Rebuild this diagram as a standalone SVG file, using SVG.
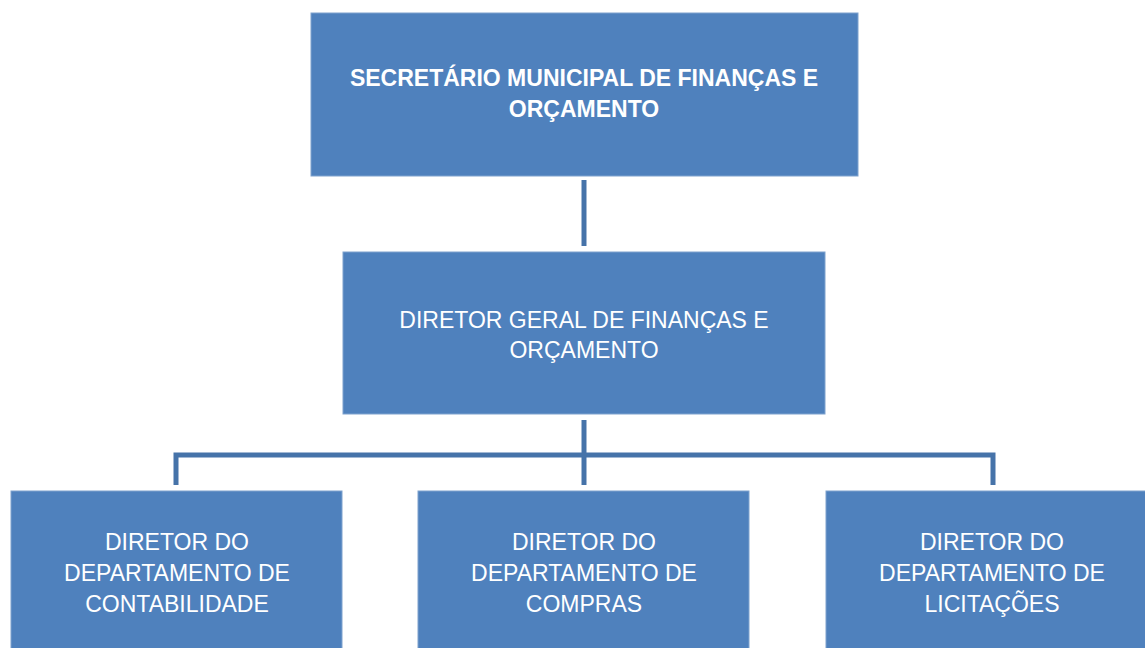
<svg xmlns="http://www.w3.org/2000/svg" width="1145" height="648" viewBox="0 0 1145 648">
<style>
.box{fill:#4F81BD;stroke:#7EA2CE;stroke-width:1}
.t{font-family:"Liberation Sans",Arial,sans-serif;font-size:23px;fill:#FFFFFF;text-anchor:middle}
.b{font-weight:bold;font-size:23px}
.c{fill:none;stroke:#4673A9;stroke-width:5}
</style>
<rect width="1145" height="648" fill="#FFFFFF"/>
<g id="connectors">
<line class="c" x1="584" y1="180" x2="584" y2="246"/>
<line class="c" x1="584" y1="420" x2="584" y2="485"/>
<polyline class="c" points="176,485 176,455 993,455 993,485"/>
</g>
<g id="n1">
<rect class="box" x="311" y="13" width="547" height="163"/>
<text class="t b" x="584" y="86">SECRETÁRIO MUNICIPAL DE FINANÇAS E</text>
<text class="t b" x="584" y="117">ORÇAMENTO</text>
</g>
<g id="n2">
<rect class="box" x="343" y="252" width="482" height="162"/>
<text class="t" x="584" y="328">DIRETOR GERAL DE FINANÇAS E</text>
<text class="t" x="584" y="358">ORÇAMENTO</text>
</g>
<g id="n3">
<rect class="box" x="11" y="491" width="331" height="160"/>
<text class="t" x="177" y="550">DIRETOR DO</text>
<text class="t" x="177" y="581">DEPARTAMENTO DE</text>
<text class="t" x="177" y="612">CONTABILIDADE</text>
</g>
<g id="n4">
<rect class="box" x="418" y="491" width="331" height="160"/>
<text class="t" x="584" y="550">DIRETOR DO</text>
<text class="t" x="584" y="581">DEPARTAMENTO DE</text>
<text class="t" x="584" y="612">COMPRAS</text>
</g>
<g id="n5">
<rect class="box" x="826" y="491" width="334" height="160"/>
<text class="t" x="992" y="550">DIRETOR DO</text>
<text class="t" x="992" y="581">DEPARTAMENTO DE</text>
<text class="t" x="992" y="612">LICITAÇÕES</text>
</g>
</svg>
